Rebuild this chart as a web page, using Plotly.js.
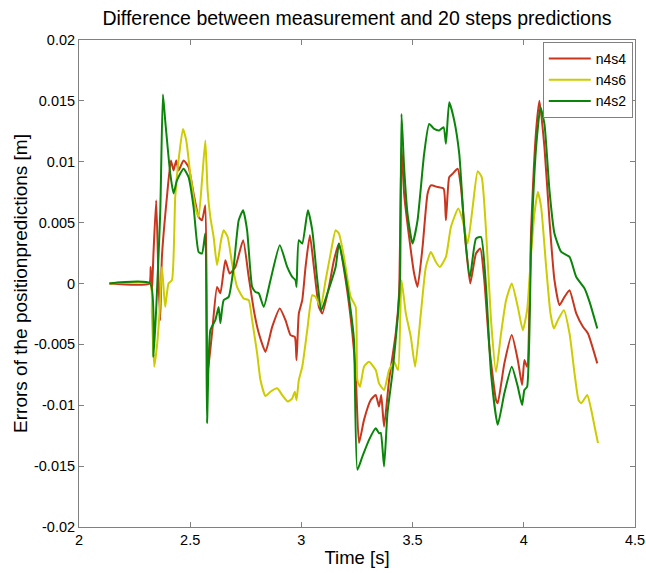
<!DOCTYPE html>
<html>
<head>
<meta charset="utf-8">
<script src="https://cdn.plot.ly/plotly-3.0.1.min.js"></script>
<style>html,body{margin:0;padding:0;background:#fff}#chart{width:646px;height:573px}</style>
</head>
<body>
<div id="chart"></div>
<script>
// Time [s] and error [m]
const timeN4s4 = [2.1366,2.3155,2.3223,2.3277,2.3349,2.3471,2.3575,2.3651,2.3728,2.3953,2.4133,2.4251,2.4372,2.4476,2.4701,2.4927,2.5152,2.5378,2.5531,2.5680,2.5783,2.5982,2.6207,2.6356,2.6581,2.6775,2.7032,2.7379,2.7631,2.7888,2.8082,2.8384,2.8686,2.9029,2.9286,2.9511,2.9705,2.9781,2.9885,3.0038,3.0187,3.0381,3.0561,3.0787,3.0940,3.1237,3.1463,3.1688,3.1990,3.2292,3.2441,3.2590,3.2815,3.3117,3.3342,3.3491,3.3590,3.3717,3.3942,3.4244,3.4393,3.4501,3.4618,3.4843,3.5069,3.5222,3.5448,3.5673,3.5822,3.6124,3.6394,3.6498,3.6647,3.6800,3.7025,3.7174,3.7399,3.7593,3.7850,3.8044,3.8224,3.8450,3.8752,3.8828,3.9126,3.9459,3.9730,3.9923,4.0027,4.0149,4.0329,4.0554,4.0703,4.0928,4.1154,4.1379,4.1605,4.1830,4.2056,4.2358,4.2660,4.2885,4.3304];
const errN4s4 = [0,0,0.00136,-0.00080,0.00248,0.00683,0.00027,-0.00301,0.00218,0.00710,0.01011,0.00929,0.01011,0.00929,0.01011,0.00956,0.00738,0.00546,0.00519,0.00642,-0.00735,-0.00407,-0.00028,-0.00080,0.00191,0.00082,0.00136,0.00355,0.00054,-0.00246,-0.00407,-0.00561,-0.00356,-0.00205,-0.00301,-0.00424,-0.00438,-0.00629,-0.00246,-0.00137,0.00136,0.00396,0.00136,-0.00192,-0.00246,-0.00028,0.00191,0.00328,0.00027,-0.00410,-0.00738,-0.01311,-0.01120,-0.00957,-0.00916,-0.01011,-0.00916,-0.01175,-0.00793,-0.00407,-0.00080,0.01120,0.00740,0.00382,0.00082,-0.00028,0.00300,0.00738,0.00806,0.00792,0.00779,0.00519,0.00874,0.00902,0.00943,0.00792,0.00300,0,0.00246,0.00287,0.00027,-0.00520,-0.00957,-0.00984,-0.00656,-0.00424,-0.00629,-0.00834,-0.00629,-0.00684,0.00437,0.01257,0.01502,0.01120,0.00519,0.00027,-0.00178,-0.00110,-0.00055,-0.00246,-0.00356,-0.00410,-0.00656];

const timeN4s6 = [2.1366,2.3200,2.3277,2.3381,2.3502,2.3620,2.3728,2.3800,2.3876,2.4025,2.4179,2.4327,2.4476,2.4674,2.4823,2.5003,2.5229,2.5378,2.5531,2.5680,2.5783,2.5905,2.6054,2.6207,2.6387,2.6504,2.6685,2.6883,2.7108,2.7406,2.7631,2.7785,2.8010,2.8159,2.8384,2.8609,2.8911,2.9136,2.9389,2.9588,2.9705,2.9781,2.9885,3.0038,3.0263,3.0489,3.0638,3.0864,3.1089,3.1314,3.1539,3.1688,3.1914,3.2216,3.2441,3.2517,3.2634,3.2815,3.3041,3.3342,3.3491,3.3717,3.3942,3.4167,3.4348,3.4501,3.4695,3.4920,3.5114,3.5371,3.5596,3.5822,3.6047,3.6227,3.6498,3.6723,3.7052,3.7251,3.7476,3.7701,3.7927,3.8107,3.8301,3.8526,3.8752,3.8977,3.9203,3.9459,3.9730,3.9955,4.0149,4.0329,4.0478,4.0631,4.0780,4.1005,4.1199,4.1352,4.1532,4.1803,4.2056,4.2281,4.2461,4.2583,4.2853,4.3034,4.3182,4.3336];
const errN4s6 = [0,0,-0.00243,-0.00684,-0.00520,-0.00243,0.00136,-0.00028,-0.00192,0,0.00027,0.00710,0.01011,0.01270,0.01175,0.00902,0.00628,0.00546,0.00847,0.01175,0.00765,0.00546,0.00382,0.00150,0.00355,0.00437,0.00382,0.00164,-0.00028,-0.00123,-0.00137,-0.00301,-0.00574,-0.00793,-0.00924,-0.00889,-0.00861,-0.00916,-0.00970,-0.00943,-0.00889,-0.00957,-0.00793,-0.00684,-0.00383,-0.00096,-0.00110,-0.00192,0.00027,0.00246,0.00437,0.00410,0.00218,-0.00110,-0.00192,-0.00793,-0.00848,-0.00684,-0.00643,-0.00711,-0.00820,-0.00875,-0.00711,-0.00643,-0.00711,0.00027,-0.00246,-0.00438,-0.00684,-0.00246,0.00136,0.00259,0.00177,0.00136,0.00218,0.00464,0.00615,0.00519,0.00328,0.00628,0.00923,0.00874,0.00437,-0.00301,-0.00727,-0.00410,-0.00137,0,-0.00192,-0.00383,-0.00219,0.00246,0.00574,0.00751,0.00628,0.00136,-0.00246,-0.00369,-0.00301,-0.00219,-0.00410,-0.00738,-0.00957,-0.00984,-0.00916,-0.01039,-0.01175,-0.01311];

const timeN4s2 = [2.1366,2.3200,2.3349,2.3651,2.3773,2.3876,2.4102,2.4251,2.4404,2.4701,2.4927,2.5152,2.5378,2.5531,2.5680,2.5756,2.5905,2.6130,2.6279,2.6356,2.6504,2.6730,2.6955,2.7181,2.7379,2.7559,2.7785,2.7933,2.8082,2.8308,2.8609,2.9029,2.9362,2.9588,2.9736,2.9781,2.9885,3.0038,3.0291,3.0489,3.0715,3.0895,3.1165,3.1539,3.1688,3.1914,3.2216,3.2365,3.2517,3.2743,3.3041,3.3342,3.3491,3.3568,3.3717,3.3870,3.4095,3.4348,3.4438,3.4501,3.4618,3.4771,3.4997,3.5222,3.5520,3.5745,3.5970,3.6196,3.6394,3.6498,3.6647,3.6872,3.7097,3.7323,3.7580,3.7850,3.8075,3.8301,3.8526,3.8828,3.9126,3.9459,3.9730,3.9923,4.0027,4.0149,4.0329,4.0554,4.0748,4.0928,4.1154,4.1379,4.1681,4.2056,4.2358,4.2732,4.2957,4.3304];
const errN4s2 = [0,0,-0.00602,0.00576,0.01552,0.01339,0.00904,0.00740,0.00847,0.00943,0.00874,0.00628,0.00259,0.00246,0.00412,-0.01148,-0.00383,-0.00301,-0.00192,-0.00325,-0.00137,-0.00110,0.00136,0.00519,0.00601,0.00437,-0.00028,-0.00069,-0.00080,-0.00192,0.00027,0.00314,0.00136,0.00054,0.00027,-0.00028,0.00355,0.00328,0.00601,0.00437,0.00027,-0.00219,-0.00082,0.00136,0.00328,0.00136,-0.00219,-0.00465,-0.01530,-0.01421,-0.01284,-0.01189,-0.01230,-0.01227,-0.01503,-0.01063,-0.00735,-0.00243,0.00054,0.01393,0.00956,0.00574,0.00328,0.00519,0.01066,0.01311,0.01270,0.01257,0.01284,0.01148,0.01489,0.01339,0.01066,0.00464,0.00054,0.00369,0.00382,-0.00028,-0.00738,-0.01161,-0.00902,-0.00684,-0.00848,-0.00998,-0.00875,-0.00848,0.00300,0.01120,0.01448,0.01311,0.00765,0.00410,0.00259,0.00218,0.00054,-0.00041,-0.00151,-0.00369];

const seriesNames = ['n4s4','n4s6','n4s2'];
const seriesColors = ['#c8361e','#cccc00','#0a850a'];

const xTickVals = [2,2.5,3,3.5,4,4.5];
const xTickText = ['2','2.5','3','3.5','4','4.5'];
const yTickVals = [-0.02,-0.015,-0.01,-0.005,0,0.005,0.01,0.015,0.02];
const yTickText = ['-0.02','-0.015','-0.01','-0.005','0','0.005','0.01','0.015','0.02'];

const FONT = 'Arial, "Liberation Sans", Helvetica, sans-serif';
const xs = [timeN4s4, timeN4s6, timeN4s2];
const ys = [errN4s4, errN4s6, errN4s2];
const traces = seriesNames.map((n,i)=>({
  x: xs[i], y: ys[i], name: n, type:'scatter', mode:'lines',
  line:{color:seriesColors[i], width:2, shape:'spline', smoothing:0.5}
}));

const axisCommon = {
  showline:true, linecolor:'#808080', linewidth:1, mirror:'ticks',
  ticks:'inside', ticklen:5, tickcolor:'#808080', tickwidth:1,
  showgrid:false, zeroline:false, tickfont:{family:FONT,size:14.5,color:'#000'}
};

const layout = {
  width:646, height:573,
  margin:{l:79, r:11, t:40, b:46},
  paper_bgcolor:'#fff', plot_bgcolor:'#fff',
  title:{text:'Difference between measurement and 20 steps predictions',
    font:{family:FONT,size:19.5,color:'#000'}, xref:'paper', x:0.5, xanchor:'center',
    yref:'container', y:1-18/573, yanchor:'middle'},
  xaxis:Object.assign({}, axisCommon, {range:[2,4.5], tickmode:'array', tickvals:xTickVals, ticktext:xTickText,
    title:{text:'Time [s]', font:{family:FONT,size:18.5,color:'#000'}, standoff:3}}),
  yaxis:Object.assign({}, axisCommon, {range:[-0.02,0.02], tickmode:'array', tickvals:yTickVals, ticktext:yTickText,
    title:{text:'Errors of the positionpredictions [m]', font:{family:FONT,size:19,color:'#000'}, standoff:1}}),
  showlegend:true,
  legend:{x:0.996, xanchor:'right', y:0.996, yanchor:'top', bgcolor:'#fff', bordercolor:'#808080', borderwidth:1,
    font:{family:FONT,size:14,color:'#000'}, tracegroupgap:0, itemwidth:42}
};

Plotly.newPlot('chart', traces, layout, {displayModeBar:false, staticPlot:true});
</script>
</body>
</html>
